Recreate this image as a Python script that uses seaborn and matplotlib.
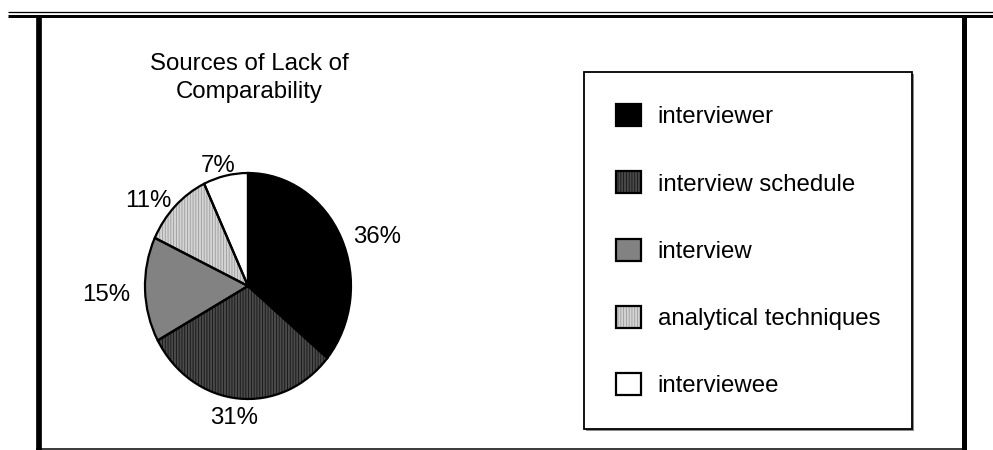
import matplotlib
matplotlib.use("Agg")
import numpy as np
import matplotlib.pyplot as plt
import matplotlib.patches as mpatches
from matplotlib.lines import Line2D
from matplotlib.legend_handler import HandlerTuple
import seaborn as sns

# ---- data ----
categories = ["interviewer", "interview schedule", "interview",
              "analytical techniques", "interviewee"]
shares = [36, 31, 15, 11, 7]
pct_labels = ["36%", "31%", "15%", "11%", "7%"]
title = "Sources of Lack of\nComparability"

# ---- styling ----
fills = ["#000000", "#4a4a4a", "#828282", "#d4d4d4", "#ffffff"]
stripe_colors = [None, "#151515", None, "#9c9c9c", None]
hatches = ["", "||||||", "", "||||||", ""]

sns.set_theme(style="white")
plt.rcParams["font.family"] = ["Liberation Sans", "DejaVu Sans"]
plt.rcParams["hatch.linewidth"] = 0.6

W, H, DPI = 993, 450, 100
FS = 17.3
fig = plt.figure(figsize=(W / DPI, H / DPI), dpi=DPI)
fig.patch.set_facecolor("white")


def fx(px):
    return px / W


def fy(py):
    return 1 - py / H


# ---- page frame ----
def frame_line(xs, ys, lw_px):
    fig.add_artist(Line2D([fx(v) for v in xs], [fy(v) for v in ys],
                          transform=fig.transFigure, color="black",
                          linewidth=lw_px * 72 / DPI, solid_capstyle="butt"))


frame_line([8, 993], [11.7, 11.7], 1.3)
frame_line([8, 993], [16.2, 16.2], 3.0)
frame_line([39, 39], [16, 450], 5.7)
frame_line([963.5, 963.5], [16, 450], 5.0)
frame_line([36, 966], [449, 449], 1.5)

# ---- pie (slightly taller than wide) ----
cx, cy, rx, ry = 248, 286, 103, 113
ax = fig.add_axes([fx(cx - rx), fy(cy + ry), 2 * rx / W, 2 * ry / H])
wedges, _ = ax.pie(shares, startangle=90, counterclock=False, colors=fills,
                   hatch=hatches, wedgeprops=dict(linewidth=0))
for w, sc in zip(wedges, stripe_colors):
    if sc:
        w.set_edgecolor(sc)
        w.set_linewidth(0)
ax.pie(shares, startangle=90, counterclock=False,
       wedgeprops=dict(fill=False, edgecolor="black", linewidth=1.6))
ax.set_aspect("auto")
ax.set_xlim(-1, 1)
ax.set_ylim(-1, 1)
ax.axis("off")

# percentage labels just outside each wedge
renderer = fig.canvas.get_renderer()
for w, lab in zip(wedges, pct_labels):
    mid = np.deg2rad((w.theta1 + w.theta2) / 2)
    ux, uy = np.cos(mid), np.sin(mid)
    t = ax.annotate(lab, xy=(1.08 * ux, 1.06 * uy), xycoords="data",
                    textcoords="offset points", xytext=(0, 0),
                    ha="center", va="center", fontsize=FS, color="black",
                    annotation_clip=False)
    bb = t.get_window_extent(renderer)
    dx = (bb.width / 2 + 7) * ux * 72 / DPI
    dy = ((bb.height / 2 - 3) * uy - 5) * 72 / DPI
    t.set_position((dx, dy))

# ---- title ----
fig.text(fx(249), fy(53), title, ha="center", va="top", fontsize=FS,
         linespacing=1.38, color="black")

# ---- legend ----
handles = []
for f, sc, h in zip(fills, stripe_colors, hatches):
    base = mpatches.Patch(facecolor=f, edgecolor=sc if sc else f,
                          hatch=h if h else None, linewidth=0)
    rim = mpatches.Patch(fill=False, edgecolor="black", linewidth=1.6)
    handles.append((base, rim))

leg = fig.legend(handles, categories,
                 handler_map={tuple: HandlerTuple(ndivide=1, pad=0)},
                 loc="upper left", bbox_to_anchor=(fx(584), fy(72)),
                 bbox_transform=fig.transFigure, borderaxespad=0,
                 frameon=True, fancybox=False, framealpha=1,
                 edgecolor="black", fontsize=FS,
                 handlelength=1.04, handleheight=1.04, handletextpad=0.7,
                 labelspacing=1.79, borderpad=1.33,
                 shadow={"ox": 1.5, "oy": -1.5, "facecolor": "0.55",
                         "edgecolor": "none", "alpha": 1})
leg.get_frame().set_linewidth(1.3)
for txt in leg.get_texts():
    txt.set_color("black")

fig.savefig("out.png", dpi=DPI, facecolor="white")
